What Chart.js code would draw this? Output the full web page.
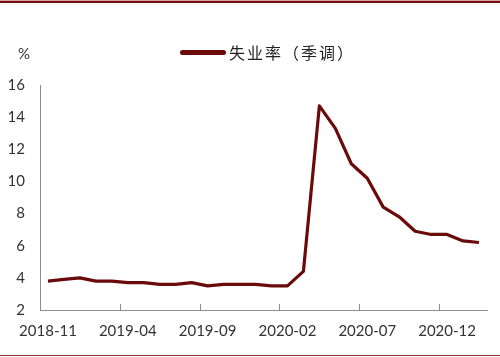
<!DOCTYPE html>
<html>
<head>
<meta charset="utf-8">
<script src="https://cdn.jsdelivr.net/npm/chart.js@4/dist/chart.umd.min.js"></script>
<style>
  html,body{margin:0;padding:0;background:#fff;}
  #wrap{position:relative;width:500px;height:357px;overflow:hidden;}
  #c{position:absolute;left:0;top:0;}
  .topline{position:absolute;left:0;top:1px;width:500px;height:2px;background:#6e1414;}
  .topline2{position:absolute;left:0;top:0;width:500px;height:1px;background:#d9a0a0;}
  .botline{position:absolute;left:0;top:355px;width:500px;height:1px;background:#8a3030;}
  .pct{position:absolute;left:18px;top:44px;font:15px Lato,"Liberation Sans",sans-serif;color:#333;}
  .legend{position:absolute;left:180px;top:41px;height:22px;display:flex;align-items:center;}
  .legend .ln{width:46px;height:5px;border-radius:3px;background:#6b0a0a;}
  .legend .tx{margin-left:3px;font:16px "Noto Sans CJK SC",sans-serif;letter-spacing:2px;color:#222;}
</style>
</head>
<body>
<div id="wrap">
  <canvas id="c" width="500" height="357"></canvas>
  <div class="topline2"></div>
  <div class="topline"></div>
  <div class="botline"></div>
  <div class="pct">%</div>
  <div class="legend"><span class="ln"></span><span class="tx">失业率（季调）</span></div>
</div>
<script>
const categories = ["2018-11","2018-12","2019-01","2019-02","2019-03","2019-04","2019-05","2019-06","2019-07","2019-08","2019-09","2019-10","2019-11","2019-12","2020-01","2020-02","2020-03","2020-04","2020-05","2020-06","2020-07","2020-08","2020-09","2020-10","2020-11","2020-12","2021-01","2021-02"];
const unemploymentRate = [3.8,3.9,4.0,3.8,3.8,3.7,3.7,3.6,3.6,3.7,3.5,3.6,3.6,3.6,3.5,3.5,4.4,14.7,13.3,11.1,10.2,8.4,7.8,6.9,6.7,6.7,6.3,6.2];
const seriesName = "失业率（季调）";
const yTicks = [2,4,6,8,10,12,14,16];
const labelEvery = 5;

const innerTicks = {
  id: 'innerTicks',
  afterDraw(chart) {
    const xs = chart.scales.x;
    const ctx = chart.ctx;
    const bottom = chart.chartArea.bottom;
    ctx.save();
    ctx.strokeStyle = '#8c8c8c';
    ctx.lineWidth = 1;
    for (let i = labelEvery; i < categories.length; i += labelEvery) {
      const x = Math.round((xs.getPixelForTick(i - 1) + xs.getPixelForTick(i)) / 2) + 0.5;
      ctx.beginPath();
      ctx.moveTo(x, bottom);
      ctx.lineTo(x, bottom - 6);
      ctx.stroke();
    }
    ctx.restore();
  }
};

new Chart(document.getElementById('c'), {
  type: 'line',
  data: {
    labels: categories,
    datasets: [{
      label: seriesName,
      data: unemploymentRate,
      borderColor: '#6b0a0a',
      backgroundColor: '#6b0a0a',
      borderWidth: 3.2,
      pointRadius: 0,
      tension: 0,
      borderJoinStyle: 'round'
    }]
  },
  options: {
    responsive: false,
    animation: false,
    layout: { padding: { left: 0, right: 13, top: 85, bottom: 0 } },
    plugins: { legend: { display: false }, tooltip: { enabled: false } },
    scales: {
      x: {
        type: 'category',
        offset: true,
        grid: { display: false, drawTicks: false },
        border: { display: true, color: '#8c8c8c', width: 1 },
        afterFit(s) { s.height = 47; },
        ticks: {
          autoSkip: false,
          maxRotation: 0,
          padding: 12,
          color: '#333',
          font: { family: 'Lato, "Liberation Sans", sans-serif', size: 15 },
          callback(v, i) { return i % labelEvery === 0 ? categories[i] : ''; }
        }
      },
      y: {
        min: yTicks[0],
        max: yTicks[yTicks.length - 1],
        afterFit(s) { s.width = 40; },
        afterBuildTicks(s) { s.ticks = yTicks.map(v => ({ value: v })); },
        grid: { display: false, drawTicks: false },
        border: { display: true, color: '#8c8c8c', width: 1 },
        ticks: {
          padding: 15,
          color: '#333',
          font: { family: 'Lato, "Liberation Sans", sans-serif', size: 15 }
        }
      }
    }
  },
  plugins: [innerTicks]
});
</script>
</body>
</html>
